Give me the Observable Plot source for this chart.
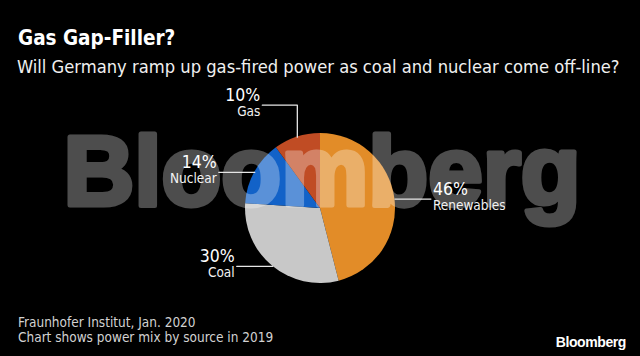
<!DOCTYPE html>
<html><head><meta charset="utf-8">
<script src="https://cdn.jsdelivr.net/npm/d3@7"></script>
<script src="https://cdn.jsdelivr.net/npm/@observablehq/plot@0.6"></script>
<style>
html,body{margin:0;padding:0;background:#000;}
#wrap{position:relative;width:640px;height:356px;overflow:hidden;background:#000;font-family:"DejaVu Sans Condensed","DejaVu Sans",sans-serif;}
#title{position:absolute;left:18px;top:27.5px;font-size:20.5px;font-weight:bold;line-height:1;color:#fff;white-space:nowrap;}
#subtitle{position:absolute;left:17px;top:58px;font-size:18.2px;line-height:1;color:#f0f0f0;white-space:nowrap;}
#chart{position:absolute;left:0;top:80px;width:640px;height:230px;}
#caption{position:absolute;left:18px;top:315px;font-size:13.5px;line-height:15px;color:#d2d2d2;white-space:nowrap;}
#logo{position:absolute;right:14px;top:335px;font-family:"Liberation Sans",Arial,sans-serif;font-weight:bold;font-size:14px;line-height:1;letter-spacing:-0.4px;color:#fff;}
</style></head>
<body><div id="wrap">
<div id="title"></div><div id="subtitle"></div><div id="chart"></div><div id="caption"></div><div id="logo"></div>
</div>
<script>
// ---- data ----
const sources = ["Renewables", "Coal", "Nuclear", "Gas"];
const shares = [46, 30, 14, 10];
const sliceColors = ["#e28c28", "#c8c8c8", "#1262c8", "#c04c24"];

const titleText = "Gas Gap-Filler?";
const subtitleText = "Will Germany ramp up gas-fired power as coal and nuclear come off-line?";
const captionLines = ["Fraunhofer Institut, Jan. 2020", "Chart shows power mix by source in 2019"];
const logoText = "Bloomberg";
const watermarkText = "Bloomberg";

// ---- layout ----
const W = 640, H = 230, R = 75, CX = 320, CY = 128;
const px = 1 / R;

document.getElementById("title").textContent = titleText;
document.getElementById("subtitle").textContent = subtitleText;
document.getElementById("caption").innerHTML = captionLines.map(s => `<div>${s}</div>`).join("");
document.getElementById("logo").textContent = logoText;

const table = sources.map((s, i) => ({source: s, share: shares[i]}));
const color = Plot.scale({color: {type: "ordinal", domain: sources, range: sliceColors}});

const arcs = d3.pie().sort(null).value(d => d.share).startAngle(0).endAngle(2 * Math.PI)(table);

const leaderPts = [];
const labels = [];
for (const a of arcs) {
  const mid = (a.startAngle + a.endAngle) / 2;
  const sx = Math.sin(mid), sy = Math.cos(mid);
  const side = sx < 0 ? -1 : 1;
  const pts = [{x: sx, y: sy}];
  let p = {x: sx, y: sy};
  if (Math.abs(sy) > 0.9) {
    p = {x: sx, y: sy + Math.sign(sy) * 32 * px};
    pts.push(p);
    p = {x: p.x + side * 35 * px, y: p.y};
    pts.push(p);
  } else {
    p = {x: sx + side * 36 * px, y: sy};
    pts.push(p);
  }
  pts.forEach(q => leaderPts.push({source: a.data.source, x: q.x, y: q.y}));
  labels.push({source: a.data.source, share: a.data.share, x: p.x, y: p.y, side});
}

const pieMark = (index, scales) => {
  const cx = scales.x(0), cy = scales.y(0), r = scales.x(1) - scales.x(0);
  const g = d3.create("svg:g").attr("transform", `translate(${cx},${cy})`);
  const arc = d3.arc().innerRadius(0).outerRadius(r);
  g.selectAll("path").data(arcs).join("path")
    .attr("d", arc)
    .attr("fill", d => color.apply(d.data.source));
  return g.node();
};

const watermarkMark = () => {
  const g = d3.create("svg:g").attr("opacity", 0.3);
  g.append("text")
    .attr("x", 63.5).attr("y", 124.5)
    .attr("text-anchor", "start")
    .style("font-family", "'Liberation Sans', Arial, sans-serif")
    .style("font-weight", "bold")
    .style("font-size", "98px")
    .style("letter-spacing", "0px")
    .attr("fill", "#ffffff")
    .attr("stroke", "#ffffff")
    .attr("stroke-width", 5)
    .attr("stroke-linejoin", "round")
    .text(watermarkText);
  return g.node();
};

const pctFont = "'DejaVu Sans Condensed', 'DejaVu Sans', sans-serif";
const textMarks = [];
for (const side of [-1, 1]) {
  const data = labels.filter(d => d.side === side);
  const anchor = side < 0 ? "end" : "start";
  textMarks.push(Plot.text(data, {x: "x", y: "y", text: d => d.share + "%", textAnchor: anchor, lineAnchor: "bottom",
    dx: side * 2, dy: -4, fontSize: 17.5, fontFamily: pctFont, fill: "#ffffff"}));
  textMarks.push(Plot.text(data, {x: "x", y: "y", text: "source", textAnchor: anchor, lineAnchor: "bottom",
    dx: side * 2, dy: 11, fontSize: 13.5, fontFamily: pctFont, fill: "#f2f2f2"}));
}

const chart = Plot.plot({
  width: W, height: H, margin: 0,
  x: {domain: [-CX / R, (W - CX) / R], axis: null},
  y: {domain: [-(H - CY) / R, CY / R], axis: null},
  style: {background: "#000", color: "#fff", overflow: "visible"},
  marks: [
    pieMark,
    watermarkMark,
    Plot.line(leaderPts, {x: "x", y: "y", z: "source", stroke: "#e6e6e6", strokeWidth: 1.3}),
    ...textMarks
  ]
});
document.getElementById("chart").appendChild(chart);
</script>
</body></html>
